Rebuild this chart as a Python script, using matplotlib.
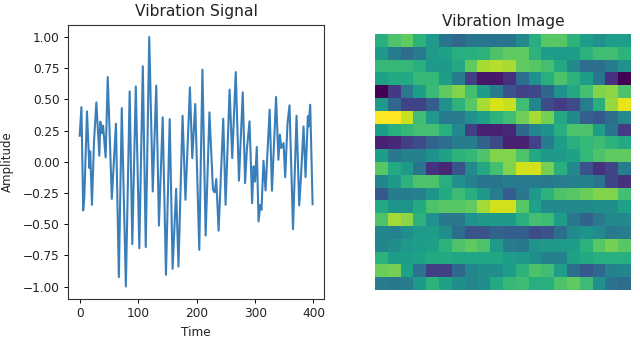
import numpy as np
import matplotlib
matplotlib.use('Agg')
import matplotlib.pyplot as plt
from matplotlib.colors import PowerNorm

# signal turning points
time = [0, 3, 6, 8, 12.5, 16.5, 18, 21, 24.5, 28.5, 33.6, 35.3, 38, 40, 44.4, 48, 55, 62, 67, 72,
        79, 85.5, 90, 96, 102, 108, 113, 119, 125, 131, 135.6, 142, 147.6, 154, 159, 165, 169, 176, 181, 188.6,
        192.6, 197.7, 204.6, 210, 215.5, 222, 228, 231, 233.7, 237.7, 245.6, 249.6, 256.5, 261, 267, 272.5, 279, 283, 286, 290.6,
        295, 297.5, 300, 303, 306, 309, 311, 314.5, 318, 325, 329, 336, 340, 342.5, 344.8, 348.8, 351.6, 355.6, 359, 365,
        371, 375.6, 378.4, 383, 386.4, 390.4, 391.5, 394.4, 398.5]
amplitude = [.209, .438, -.39, -.273, .404, -.05, .083, -.345, .163, .476, .048, .321, .23, .289, .035, .679, -.297, .305, -.925, .43,
             -1.0, .564, -.66, .604, -.693, .765, -.684, 1.0, -.238, .61, -.511, .356, -.906, .342, -.858, -.217, -.84, .369, -.305, .596,
             .029, .463, -.706, .738, -.591, .396, -.225, -.246, -.139, -.553, .345, -.345, .578, .029, .719, -.152, .556, -.171, .096, .324,
             -.332, -.037, -.158, .118, -.479, -.345, -.385, .008, -.23, .417, -.233, .519, .016, .217, .11, .15, -.123, .31, .452, -.54,
             .369, -.35, -.139, .283, -.123, .364, .283, .457, -.34]

# image cells, top row first
image_rows = [
    [.58, .68, .72, .60, .48, .33, .28, .33, .33, .33, .33, .42, .58, .70, .70, .60, .50, .45, .50, .50],
    [.48, .36, .30, .35, .48, .52, .58, .58, .60, .68, .72, .72, .60, .50, .48, .50, .60, .65, .65, .60],
    [.62, .62, .62, .58, .48, .48, .55, .72, .85, .87, .85, .72, .70, .66, .56, .42, .30, .30, .36, .45],
    [.52, .56, .56, .62, .62, .50, .36, .14, .04, .04, .10, .30, .45, .58, .68, .60, .50, .33, .10, .00],
    [.00, .12, .34, .50, .63, .72, .78, .66, .50, .36, .20, .15, .17, .28, .45, .55, .66, .78, .80, .68],
    [.48, .28, .15, .15, .24, .45, .60, .70, .85, .93, .90, .65, .40, .18, .13, .18, .36, .58, .82, .96],
    [1.0, 1.0, .90, .65, .48, .35, .35, .45, .52, .60, .65, .75, .85, .76, .55, .42, .25, .22, .30, .42],
    [.50, .58, .62, .66, .66, .58, .42, .14, .06, .06, .08, .28, .40, .45, .58, .68, .68, .50, .33, .13],
    [.06, .08, .14, .18, .26, .30, .36, .36, .26, .18, .06, .06, .15, .36, .50, .58, .62, .64, .60, .56],
    [.50, .34, .38, .38, .45, .52, .60, .62, .68, .78, .78, .68, .55, .48, .48, .52, .62, .68, .72, .72],
    [.70, .56, .48, .33, .10, .07, .20, .42, .55, .66, .78, .92, .92, .76, .58, .42, .20, .10, .16, .36],
    [.40, .48, .60, .68, .68, .58, .45, .38, .33, .33, .36, .35, .35, .34, .36, .38, .38, .32, .16, .10],
    [.22, .36, .36, .38, .46, .56, .64, .58, .48, .36, .24, .34, .48, .60, .68, .70, .74, .78, .78, .66],
    [.56, .46, .46, .56, .68, .70, .70, .72, .84, .92, .92, .70, .52, .42, .42, .42, .42, .44, .44, .52],
    [.68, .84, .80, .60, .45, .34, .34, .45, .48, .48, .48, .58, .66, .64, .50, .34, .26, .34, .42, .42],
    [.40, .38, .44, .48, .50, .44, .30, .20, .20, .26, .24, .24, .18, .20, .30, .42, .46, .42, .34, .36],
    [.40, .44, .48, .50, .52, .60, .68, .72, .68, .48, .36, .34, .46, .48, .48, .50, .60, .70, .76, .70],
    [.60, .50, .50, .52, .56, .56, .54, .54, .54, .54, .50, .48, .44, .38, .38, .52, .56, .58, .58, .58],
    [.74, .76, .52, .32, .14, .14, .28, .40, .44, .44, .50, .60, .68, .65, .50, .30, .22, .28, .38, .40],
    [.36, .34, .36, .48, .60, .52, .44, .40, .44, .56, .62, .64, .58, .58, .68, .72, .64, .45, .32, .30],
]

W, H = 640, 339
fig = plt.figure(figsize=(W / 100, H / 100), dpi=100)

ax = fig.add_axes([68 / W, 1 - 299 / H, 256 / W, 274.5 / H])
ax.plot(time, amplitude, color='#3a7fba', linewidth=1.5)
ax.set_xlim(-20, 418)
ax.set_ylim(-1.1, 1.1)
ax.set_xticks([0, 100, 200, 300, 400])
ax.set_yticks(np.arange(-1, 1.01, 0.25))
ax.set_title('Vibration Signal', fontsize=11.2, pad=6, color='#222222')
ax.set_xlabel('Time', fontsize=8.7, labelpad=4, color='#222222')
ax.set_ylabel('Amplitude', fontsize=8.5, labelpad=6.3, color='#222222')
ax.tick_params(labelsize=8.7, labelcolor='#222222', length=3, width=0.7, pad=3)
for s in ax.spines.values():
    s.set_linewidth(0.8)
    s.set_color('#333333')

ax2 = fig.add_axes([375 / W, 1 - 290 / H, 256 / W, 256 / H])
ax2.imshow(np.array(image_rows), cmap='viridis', norm=PowerNorm(0.85, vmin=0, vmax=1),
           aspect='auto', interpolation='nearest')
ax2.set_title('Vibration Image', fontsize=11.1, pad=5.5, color='#222222')
ax2.axis('off')

plt.savefig('out.png', dpi=100)
print('Saved out.png')
